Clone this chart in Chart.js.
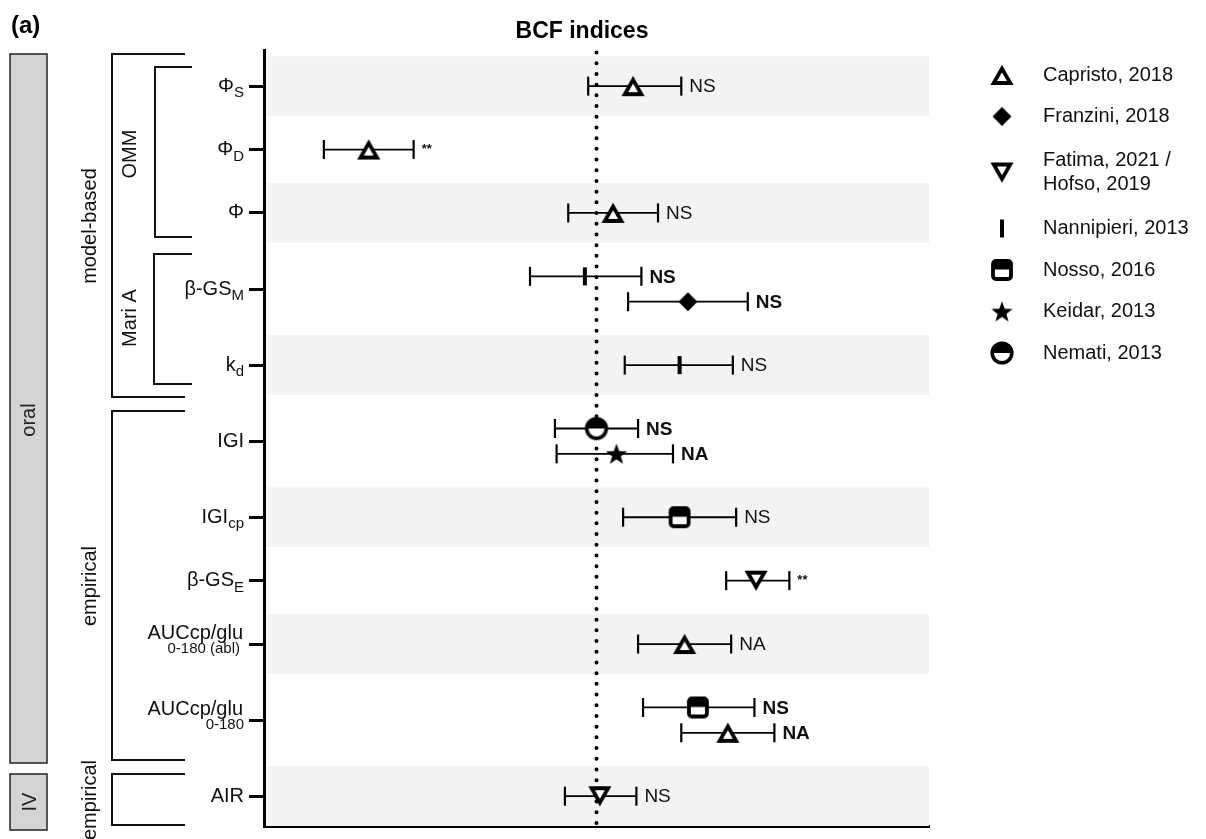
<!DOCTYPE html>
<html>
<head>
<meta charset="utf-8">
<title>BCF indices</title>
<script src="https://cdn.jsdelivr.net/npm/chart.js@4.4.1/dist/chart.umd.min.js"></script>
<style>
    html, body { margin: 0; padding: 0; background: #fff; }
    #wrap { position: relative; width: 1206px; height: 839px; }
</style>
</head>
<body>
<div id="wrap"><canvas id="forest"></canvas></div>
<script>
// Rows of the y axis, top to bottom
const rowMain = ['Φ', 'Φ', 'Φ', 'β-GS', 'k', 'IGI', 'IGI', 'β-GS', 'AUCcp/glu', 'AUCcp/glu', 'AIR'];
const rowSub = ['S', 'D', '', 'M', 'd', '', 'cp', 'E', '0-180 (abl)', '0-180', ''];
const rowPos = [0, 1, 2, 3.2, 4.4, 5.6, 6.8, 7.8, 8.8, 10, 11.2];

// One entry per estimate (row index, lane inside a row with two studies)
const entryRow = [0, 1, 2, 3, 3, 4, 5, 5, 6, 7, 8, 9, 9, 10];
const entryLane = [0, 0, 0, -1, 1, 0, -1, 1, 0, 0, 0, -1, 1, 0];
const entryStudy = [
    'Capristo, 2018', 'Capristo, 2018', 'Capristo, 2018',
    'Nannipieri, 2013', 'Franzini, 2018', 'Nannipieri, 2013',
    'Nemati, 2013', 'Keidar, 2013', 'Nosso, 2016',
    'Fatima, 2021 / Hofso, 2019', 'Capristo, 2018',
    'Nosso, 2016', 'Capristo, 2018', 'Fatima, 2021 / Hofso, 2019'
];
const estimate = [0.22, -1.37, 0.10, -0.07, 0.55, 0.50, 0.00, 0.12, 0.50, 0.96, 0.53, 0.61, 0.79, 0.02];
const lower = [-0.05, -1.64, -0.17, -0.40, 0.19, 0.17, -0.25, -0.24, 0.16, 0.78, 0.25, 0.28, 0.51, -0.19];
const upper = [0.51, -1.10, 0.37, 0.27, 0.91, 0.82, 0.25, 0.46, 0.84, 1.16, 0.81, 0.95, 1.07, 0.24];
const signif = ['NS', '**', 'NS', 'NS', 'NS', 'NS', 'NS', 'NA', 'NS', '**', 'NA', 'NS', 'NA', 'NS'];

const studies = [
    'Capristo, 2018', 'Franzini, 2018', 'Fatima, 2021 / Hofso, 2019',
    'Nannipieri, 2013', 'Nosso, 2016', 'Keidar, 2013', 'Nemati, 2013'
];
const studyMarker = ['triangle', 'diamond', 'triangleDown', 'bar', 'halfSquare', 'star', 'halfCircle'];

const FONT = '"Liberation Sans", Arial, Helvetica, sans-serif';
const Y_MIN = -0.57, Y_MAX = 11.67;

Chart.defaults.font.family = FONT;

// Marker glyphs drawn once on small canvases, used as point styles
function makeMarker(kind) {
    const c = document.createElement('canvas');
    c.width = 30;
    c.height = 30;
    const g = c.getContext('2d');
    g.strokeStyle = '#000';
    g.fillStyle = '#000';
    g.lineJoin = 'miter';

    if (kind === 'triangle' || kind === 'triangleDown') {
        g.beginPath();
        if (kind === 'triangle') {
            g.moveTo(15, 8.6); g.lineTo(23.3, 23); g.lineTo(6.7, 23);
        } else {
            g.moveTo(15, 21.4); g.lineTo(23.3, 7); g.lineTo(6.7, 7);
        }
        g.closePath();
        g.fillStyle = '#fff';
        g.fill();
        g.lineWidth = 3.8;
        g.stroke();
    } else if (kind === 'diamond') {
        g.beginPath();
        g.moveTo(15, 5.5); g.lineTo(24.5, 15); g.lineTo(15, 24.5); g.lineTo(5.5, 15);
        g.closePath();
        g.fill();
    } else if (kind === 'bar') {
        g.fillRect(13, 6, 4, 18);
    } else if (kind === 'halfSquare') {
        g.beginPath();
        g.roundRect(6, 6, 18, 18, 3);
        g.fillStyle = '#fff';
        g.fill();
        g.fillStyle = '#000';
        g.fillRect(6, 6, 18, 8.5);
        g.lineWidth = 3.8;
        g.stroke();
    } else if (kind === 'star') {
        g.beginPath();
        for (let k = 0; k < 10; k++) {
            const r = k % 2 === 0 ? 11.2 : 4.6;
            const a = -Math.PI / 2 + k * Math.PI / 5;
            const px = 15 + r * Math.cos(a);
            const py = 16 + r * Math.sin(a);
            if (k === 0) g.moveTo(px, py); else g.lineTo(px, py);
        }
        g.closePath();
        g.fill();
    } else if (kind === 'halfCircle') {
        g.beginPath();
        g.arc(15, 15, 9.8, 0, Math.PI * 2);
        g.fillStyle = '#fff';
        g.fill();
        g.beginPath();
        g.arc(15, 15, 9.8, Math.PI, Math.PI * 2);
        g.closePath();
        g.fillStyle = '#000';
        g.fill();
        g.beginPath();
        g.arc(15, 15, 9.8, 0, Math.PI * 2);
        g.lineWidth = 3.6;
        g.stroke();
    }
    return c;
}

const markerImg = studyMarker.map(makeMarker);

function entryY(i) {
    return rowPos[entryRow[i]] + entryLane[i] * 0.2;
}

// Datasets: markers on top, then confidence intervals, then the reference line
const markerSets = studies.map(function(study, k) {
    const pts = [];
    entryStudy.forEach(function(s, i) {
        if (s === study) pts.push({ x: estimate[i], y: entryY(i) });
    });
    return {
        label: study,
        data: pts,
        pointStyle: markerImg[k],
        pointRadius: 10,
        order: 0
    };
});

const ciSets = estimate.map(function(v, i) {
    const y = entryY(i);
    return {
        label: 'ci' + i,
        data: [{ x: lower[i], y: y }, { x: upper[i], y: y }],
        showLine: true,
        borderColor: '#000',
        borderWidth: 1.8,
        pointStyle: 'line',
        pointRotation: 90,
        pointRadius: 9.5,
        pointBorderWidth: 2.2,
        pointBorderColor: '#000',
        order: 1
    };
});

const refLine = {
    label: 'ref',
    data: [{ x: 0, y: Y_MIN + 0.04 }, { x: 0, y: Y_MAX }],
    showLine: true,
    borderColor: '#000',
    borderWidth: 4,
    borderDash: [0, 10.7],
    borderCapStyle: 'round',
    pointRadius: 0,
    order: 2
};

function vText(ctx, text, x, y, font) {
    ctx.save();
    ctx.translate(x, y);
    ctx.rotate(-Math.PI / 2);
    ctx.font = font;
    ctx.textAlign = 'center';
    ctx.textBaseline = 'middle';
    ctx.fillText(text, 0, 0);
    ctx.restore();
}

function bracket(ctx, x, y1, y2, xEnd) {
    ctx.beginPath();
    ctx.moveTo(xEnd, y1);
    ctx.lineTo(x, y1);
    ctx.lineTo(x, y2);
    ctx.lineTo(xEnd, y2);
    ctx.stroke();
}

function drawRowLabel(ctx, i, y) {
    const xr = 244;
    const main = rowMain[i];
    const sub = rowSub[i];
    ctx.textBaseline = 'middle';
    if (main.indexOf('AUC') === 0) {
        ctx.textAlign = 'right';
        ctx.font = '20px ' + FONT;
        ctx.fillText(main, xr - 1, y - 10.5);
        ctx.font = '15px ' + FONT;
        ctx.fillText(sub, xr - (sub.length > 6 ? 4 : 0), y + 5);
        return;
    }
    ctx.textAlign = 'left';
    ctx.font = '20px ' + FONT;
    const wm = ctx.measureText(main).width;
    ctx.font = '15px ' + FONT;
    const ws = sub ? ctx.measureText(sub).width : 0;
    const x0 = xr - wm - ws;
    ctx.font = '20px ' + FONT;
    ctx.fillText(main, x0, y);
    if (sub) {
        ctx.font = '15px ' + FONT;
        ctx.fillText(sub, x0 + wm, y + 7);
    }
}

const decorPlugin = {
    id: 'forestDecor',
    beforeDatasetsDraw: function(chart) {
        const ctx = chart.ctx;
        const area = chart.chartArea;
        const ys = chart.scales.y;
        ctx.save();
        ctx.fillStyle = '#f3f3f3';
        rowPos.forEach(function(v, i) {
            if (i % 2 !== 0) return;
            const top = ys.getPixelForValue(v - 0.47);
            const bot = ys.getPixelForValue(Math.min(v + 0.47, Y_MAX));
            ctx.fillRect(area.left + 2, top, area.right - area.left - 2, bot - top);
        });
        ctx.restore();
    },
    afterDatasetsDraw: function(chart) {
        const ctx = chart.ctx;
        const xs = chart.scales.x;
        const ys = chart.scales.y;
        ctx.save();
        ctx.fillStyle = '#111';
        ctx.textAlign = 'left';
        ctx.textBaseline = 'middle';
        signif.forEach(function(s, i) {
            const x = xs.getPixelForValue(upper[i]) + 8;
            const y = ys.getPixelForValue(entryY(i));
            if (s === '**') {
                ctx.font = 'bold 13px ' + FONT;
                ctx.fillText(s, x, y);
            } else {
                ctx.font = (entryLane[i] !== 0 ? 'bold ' : '') + '19px ' + FONT;
                ctx.fillText(s, x, y + 1);
            }
        });
        ctx.restore();
    },
    afterDraw: function(chart) {
        const ctx = chart.ctx;
        const ys = chart.scales.y;
        ctx.save();
        ctx.fillStyle = '#000';

        // Panel letter and title
        ctx.textBaseline = 'middle';
        ctx.textAlign = 'left';
        ctx.font = 'bold 24px ' + FONT;
        ctx.fillText('(a)', 11, 26);
        ctx.textAlign = 'center';
        ctx.font = 'bold 23px ' + FONT;
        ctx.fillText('BCF indices', 582, 32);

        // Row labels with subscripts
        ctx.fillStyle = '#111';
        rowPos.forEach(function(v, i) {
            drawRowLabel(ctx, i, ys.getPixelForValue(v));
        });

        // Route bars
        ctx.fillStyle = '#d4d4d4';
        ctx.strokeStyle = '#222';
        ctx.lineWidth = 1.5;
        ctx.fillRect(10, 54, 37, 709);
        ctx.strokeRect(10, 54, 37, 709);
        ctx.fillRect(10, 774, 37, 56);
        ctx.strokeRect(10, 774, 37, 56);
        ctx.fillStyle = '#222';
        vText(ctx, 'oral', 29, 420, '20px ' + FONT);
        vText(ctx, 'IV', 30, 802, '20px ' + FONT);

        // Method brackets
        ctx.strokeStyle = '#111';
        ctx.lineWidth = 2;
        bracket(ctx, 112, 54, 397, 185);
        bracket(ctx, 155, 67, 237, 192);
        bracket(ctx, 154, 254, 384, 192);
        bracket(ctx, 112, 411, 760, 185);
        bracket(ctx, 112, 774, 825, 185);
        ctx.fillStyle = '#111';
        vText(ctx, 'model-based', 90, 226, '20px ' + FONT);
        vText(ctx, 'OMM', 130, 154, '20px ' + FONT);
        vText(ctx, 'Mari A', 130, 318, '20px ' + FONT);
        vText(ctx, 'empirical', 90, 586, '20px ' + FONT);
        vText(ctx, 'empirical', 90, 800, '20px ' + FONT);

        // Legend
        let top = 54.25;
        ctx.font = '20px ' + FONT;
        ctx.textAlign = 'left';
        ctx.textBaseline = 'middle';
        studies.forEach(function(s, k) {
            const parts = s.split(' / ');
            const lines = parts.length > 1 ? [parts[0] + ' /', parts[1]] : [s];
            const h = 41.5 + (lines.length - 1) * 29;
            const cy = top + h / 2;
            ctx.drawImage(markerImg[k], 1002 - 15, cy - 15);
            lines.forEach(function(t, j) {
                ctx.fillText(t, 1043, cy + (j - (lines.length - 1) / 2) * 24);
            });
            top += h;
        });
        ctx.restore();
    }
};

new Chart(document.getElementById('forest'), {
    type: 'scatter',
    data: {
        datasets: markerSets.concat(ciSets, [refLine])
    },
    options: {
        responsive: true,
        maintainAspectRatio: false,
        animation: false,
        events: [],
        layout: {
            padding: { top: 50, right: 277, bottom: 13, left: 0 }
        },
        scales: {
            x: {
                type: 'linear',
                min: -2,
                max: 2,
                ticks: { display: false },
                grid: { display: false, drawTicks: false },
                border: { display: true, width: 3, color: '#000' },
                afterFit: function(scale) { scale.height = 0; }
            },
            y: {
                type: 'linear',
                reverse: true,
                min: Y_MIN,
                max: Y_MAX,
                afterBuildTicks: function(scale) {
                    scale.ticks = rowPos.map(function(v) { return { value: v }; });
                },
                afterFit: function(scale) { scale.width = 264; },
                ticks: { autoSkip: false, padding: 0, callback: function() { return ''; } },
                grid: {
                    drawOnChartArea: false,
                    drawTicks: true,
                    tickLength: 15,
                    tickWidth: 3,
                    tickColor: '#000'
                },
                border: { display: true, width: 3, color: '#000' }
            }
        },
        plugins: {
            legend: { display: false },
            tooltip: { enabled: false },
            title: { display: false }
        }
    },
    plugins: [decorPlugin]
});
</script>
</body>
</html>
